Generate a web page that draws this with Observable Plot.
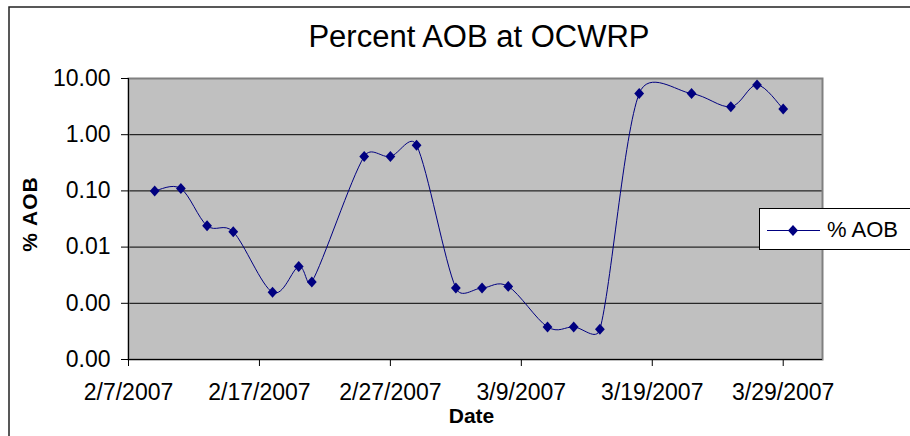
<!DOCTYPE html>
<html>
<head>
<meta charset="utf-8">
<script src="https://cdn.jsdelivr.net/npm/d3@7"></script>
<script src="https://cdn.jsdelivr.net/npm/@observablehq/plot@0.6"></script>
<style>
  html, body { margin: 0; padding: 0; background: white; }
  svg { display: block; }
</style>
</head>
<body>
<div id="chart"></div>
<script>
// ---- Data ----
const dates = ["2007-02-09","2007-02-11","2007-02-13","2007-02-15","2007-02-18","2007-02-20","2007-02-21",
               "2007-02-25","2007-02-27","2007-03-01","2007-03-04","2007-03-06","2007-03-08","2007-03-11",
               "2007-03-13","2007-03-15","2007-03-18","2007-03-22","2007-03-25","2007-03-27","2007-03-29"];
const aob = [0.10, 0.11, 0.024, 0.0187, 0.00157, 0.0045, 0.0024,
             0.41, 0.41, 0.65, 0.00187, 0.00187, 0.002, 0.00038,
             0.00038, 0.000345, 5.4, 5.4, 3.15, 7.7, 2.87];
const xTickDates = ["2007-02-07","2007-02-17","2007-02-27","2007-03-09","2007-03-19","2007-03-29"];
const xTickLabels = ["2/7/2007","2/17/2007","2/27/2007","3/9/2007","3/19/2007","3/29/2007"];
const yTicks = [0.0001, 0.001, 0.01, 0.1, 1, 10];
const yTickLabels = ["0.00","0.00","0.01","0.10","1.00","10.00"];
const xDomain = ["2007-02-07","2007-04-01"];

const data = dates.map((d, i) => ({date: new Date(d), value: aob[i]}));
const xTickObjs = xTickDates.map(d => new Date(d));
const xLabelMap = new Map(xTickObjs.map((d, i) => [+d, xTickLabels[i]]));
const yLabelMap = new Map(yTicks.map((d, i) => [d, yTickLabels[i]]));

// Excel-like smoothed line (Bezier with capped 1/6 tangents)
function excelSmooth(context) {
  return {
    areaStart() {}, areaEnd() {},
    lineStart() { this._p = []; },
    point(x, y) { this._p.push([+x, +y]); },
    lineEnd() {
      const p = this._p, n = p.length;
      if (!n) return;
      context.moveTo(p[0][0], p[0][1]);
      const dist = (a, b) => Math.hypot(a[0] - b[0], a[1] - b[1]);
      for (let i = 0; i < n - 1; i++) {
        const P0 = p[Math.max(i - 1, 0)], P1 = p[i], P2 = p[i + 1], P3 = p[Math.min(i + 2, n - 1)];
        const d12 = dist(P1, P2), d02 = dist(P0, P2), d13 = dist(P1, P3);
        const f = (d02 / 6 < d12 / 2 || d02 === 0) ? 1 / 6 : d12 / (2 * d02);
        const g = (d13 / 6 < d12 / 2 || d13 === 0) ? 1 / 6 : d12 / (2 * d13);
        context.bezierCurveTo(
          P1[0] + f * (P2[0] - P0[0]), P1[1] + f * (P2[1] - P0[1]),
          P2[0] - g * (P3[0] - P1[0]), P2[1] - g * (P3[1] - P1[1]),
          P2[0], P2[1]);
      }
    }
  };
}

// Excel-style diamond marker (slightly taller than wide)
const excelDiamond = {
  draw(context, size) {
    const r = Math.sqrt(size / Math.PI);
    context.moveTo(0, -r * 1.12);
    context.lineTo(r, 0);
    context.lineTo(0, r * 1.12);
    context.lineTo(-r, 0);
    context.closePath();
  }
};

const navy = "#000080";
const font = "'Liberation Sans', Arial, sans-serif";

const svg = Plot.plot({
  width: 910,
  height: 436,
  marginLeft: 128,
  marginRight: 88,
  marginTop: 78,
  marginBottom: 77,
  style: {fontFamily: font, background: "white", color: "black", overflow: "visible"},
  x: {type: "utc", domain: xDomain.map(d => new Date(d))},
  y: {type: "log", domain: [yTicks[0], yTicks[yTicks.length - 1]]},
  marks: [
    Plot.frame({fill: "#c0c0c0"}),
    Plot.ruleY(yTicks.slice(1, -1), {stroke: "black", strokeWidth: 1}),
    Plot.frame({stroke: "#808080", strokeWidth: 2}),
    Plot.ruleY([yTicks[0]], {stroke: "black", strokeWidth: 1}),
    Plot.ruleX([new Date(xDomain[0])], {stroke: "black", strokeWidth: 1}),
    Plot.axisY({ticks: yTicks, tickFormat: d => yLabelMap.get(d), tickSize: 7, tickPadding: 11,
                label: null, fontSize: 23, stroke: "black"}),
    Plot.axisX({ticks: xTickObjs, tickFormat: d => xLabelMap.get(+d), tickSize: 7, tickPadding: 17,
                label: null, fontSize: 23, stroke: "black"}),
    Plot.line(data, {x: "date", y: "value", stroke: navy, strokeWidth: 1, curve: excelSmooth}),
    Plot.dot(data, {x: "date", y: "value", symbol: excelDiamond, r: 4.9, fill: navy, stroke: "none"})
  ]
});

const s = d3.select(svg);
// outer chart border
s.insert("rect", ":first-child")
  .attr("x", 9).attr("y", 7).attr("width", 940).attr("height", 460)
  .attr("fill", "white").attr("stroke", "#222").attr("stroke-width", 1.5);

// title
s.append("text").attr("x", 479).attr("y", 47).attr("text-anchor", "middle")
  .attr("font-family", font).attr("font-size", 31).attr("fill", "black")
  .text("Percent AOB at OCWRP");

// axis titles
s.append("text").attr("x", 471.5).attr("y", 422.5).attr("text-anchor", "middle")
  .attr("font-family", font).attr("font-size", 21).attr("font-weight", "bold").attr("fill", "black")
  .text("Date");
s.append("text").attr("transform", "translate(37,214) rotate(-90)").attr("text-anchor", "middle")
  .attr("font-family", font).attr("font-size", 21).attr("font-weight", "bold").attr("fill", "black")
  .attr("letter-spacing", 1)
  .text("% AOB");

// legend
const lg = s.append("g");
lg.append("rect").attr("x", 759.5).attr("y", 208.5).attr("width", 170).attr("height", 41)
  .attr("fill", "white").attr("stroke", "black").attr("stroke-width", 1);
lg.append("line").attr("x1", 767).attr("x2", 820).attr("y1", 230.5).attr("y2", 230.5)
  .attr("stroke", navy).attr("stroke-width", 1);
lg.append("path").attr("d", "M793,225L798,230.5L793,236L788,230.5Z").attr("fill", navy);
lg.append("text").attr("x", 827).attr("y", 237).attr("text-anchor", "start")
  .attr("font-family", font).attr("font-size", 22).attr("fill", "black")
  .text("% AOB");

document.getElementById("chart").appendChild(svg);
</script>
</body>
</html>
